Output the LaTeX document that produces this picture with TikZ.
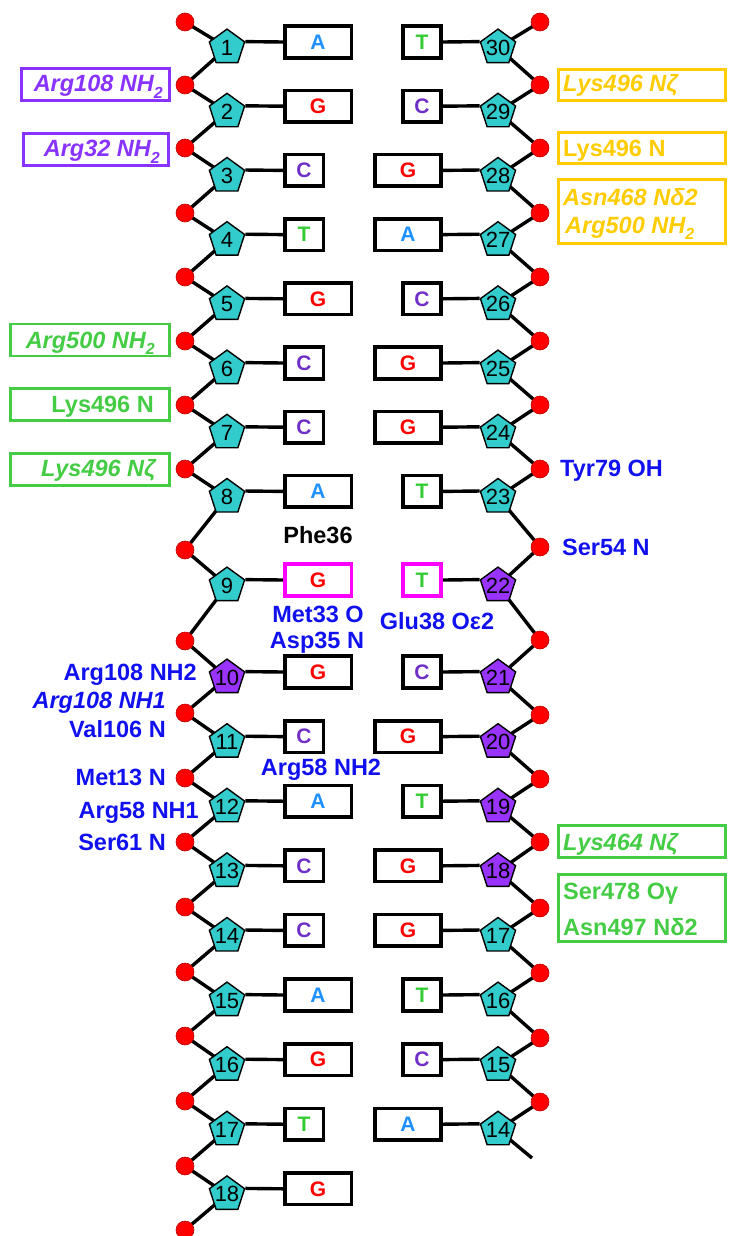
\documentclass[tikz,border=0pt]{standalone}
\usepackage{fontspec}
\setmainfont{Liberation Sans}
\usetikzlibrary{shapes.geometric}
\pgfdeclarelayer{background}
\pgfsetlayers{background,main}

\definecolor{sugarT}{RGB}{51,204,204}
\definecolor{sugarV}{RGB}{153,51,255}
\definecolor{baseA}{RGB}{30,144,255}
\definecolor{baseG}{RGB}{255,0,0}
\definecolor{baseC}{RGB}{112,48,200}
\definecolor{baseT}{RGB}{51,204,51}
\definecolor{labP}{RGB}{136,51,255}
\definecolor{labG}{RGB}{68,204,68}
\definecolor{labY}{RGB}{255,204,0}
\definecolor{labB}{RGB}{17,17,240}
\definecolor{mis}{RGB}{255,0,255}

\newcommand\lowsub[1]{\raisebox{-0.28em}{\fontsize{16}{16}\selectfont #1}}

\begin{document}
\begin{tikzpicture}[x=1pt,y=-1pt,
  backbone/.style={line width=3.4pt, black},
  sugar/.style={regular polygon, regular polygon sides=5, minimum size=37pt,
    inner sep=0pt, draw=black, line width=1.4pt},
  phos/.style={circle, fill=red, draw=red!75!black, line width=0.6pt,
    minimum size=18pt, inner sep=0pt},
  base/.style={rectangle, draw=black, line width=3.6pt, minimum height=31.5pt,
    inner sep=0pt, font=\fontsize{21}{21}\selectfont\bfseries},
  pur/.style={base, minimum width=66.5pt},
  pyr/.style={base, minimum width=38.5pt},
  boxA/.style={pur, text=baseA},
  boxG/.style={pur, text=baseG},
  boxC/.style={pyr, text=baseC},
  boxT/.style={pyr, text=baseT},
  num/.style={inner sep=0pt, font=\fontsize{22}{22}\selectfont},
  lab/.style={inner sep=0pt, font=\fontsize{23.5}{23.5}\selectfont\bfseries},
  ilab/.style={inner sep=0pt, font=\fontsize{23.5}{23.5}\selectfont\bfseries\itshape},
  frame/.style={rectangle, line width=2.6pt, inner sep=0pt}
]
\useasboundingbox (0,0) rectangle (728,1236);

% ---------- strand 1 (left, 1 to 18) ----------
\foreach \i/\y/\d/\b/\s/\o in {
  1/42/22/A/sugarT/black, 2/106.2/85/G/sugarT/black, 3/170.4/148/C/sugarT/black,
  4/234.6/213/T/sugarT/black, 5/298.8/277/G/sugarT/black, 6/363/341/C/sugarT/black,
  7/427.2/405/C/sugarT/black, 8/491.4/469/A/sugarT/black, 9/580/550/G/sugarT/mis,
  10/672/641/G/sugarV/black, 11/736.6/713/C/sugarT/black, 12/801.2/778/A/sugarT/black,
  13/865.8/842/C/sugarT/black, 14/930.4/907/C/sugarT/black, 15/995/972/A/sugarT/black,
  16/1059.6/1036/G/sugarT/black, 17/1124.2/1101/T/sugarT/black, 18/1188.8/1166/G/sugarT/black}
{
  \node[phos] (pL\i) at (185,\d) {};
  \node[sugar, fill=\s] (sL\i) at (227,\y+5.6) {};
  \node[num] (nL\i) at (sL\i) {\i};
  \node[box\b, draw=\o, anchor=west] (bL\i) at (283,\y) {\b};
}
\node[phos] (pL19) at (185,1230) {};

% ---------- strand 2 (right, 30 down to 14) ----------
\foreach \n/\y/\d/\b/\s/\o in {
  30/42/22/T/sugarT/black, 29/106.2/85/C/sugarT/black, 28/170.4/148/G/sugarT/black,
  27/234.6/213/A/sugarT/black, 26/298.8/277/C/sugarT/black, 25/363/341/G/sugarT/black,
  24/427.2/405/G/sugarT/black, 23/491.4/469/T/sugarT/black, 22/580/547/T/sugarV/mis,
  21/672/640/C/sugarV/black, 20/736.6/715/G/sugarV/black, 19/801.2/779/T/sugarV/black,
  18/865.8/842/G/sugarV/black, 17/930.4/908/G/sugarT/black, 16/995/973/T/sugarT/black,
  15/1059.6/1038/C/sugarT/black, 14/1124.2/1102/A/sugarT/black}
{
  \node[phos] (pR\n) at (540,\d) {};
  \node[sugar, fill=\s] (sR\n) at (498,\y+5.6) {};
  \node[num] (nR\n) at (sR\n) {\n};
  \node[box\b, draw=\o, anchor=east] (bR\n) at (443,\y) {\b};
}
\coordinate (pR13) at (532,1158);

% ---------- backbone and base links ----------
\begin{pgfonlayer}{background}
  \foreach \i in {1,...,18}{
    \pgfmathtruncatemacro\nx{\i+1}
    \draw[backbone] (pL\i.center) -- (sL\i.center) -- (pL\nx.center);
    \draw[backbone] (sL\i.corner 5) -- (bL\i.west);
  }
  \foreach \n in {30,29,...,14}{
    \pgfmathtruncatemacro\nx{\n-1}
    \draw[backbone] (pR\n.center) -- (sR\n.center) -- (pR\nx.center);
    \draw[backbone] (sR\n.corner 2) -- (bR\n.east);
  }
\end{pgfonlayer}

% ---------- framed contacts, left ----------
\node[frame, draw=labP, minimum width=148.5pt, minimum height=32.5pt] (fP1) at (95.5,84.5) {};
\node[ilab, text=labP, anchor=base east] (tP1) at (163,92) {Arg108 NH\lowsub{2}};
\node[frame, draw=labP, minimum width=145.5pt, minimum height=32.5pt] (fP2) at (96,149.5) {};
\node[ilab, text=labP, anchor=base east] (tP2) at (160,157) {Arg32 NH\lowsub{2}};

\node[frame, draw=labG, minimum width=159.5pt, minimum height=32pt] (fG1) at (90,340) {};
\node[ilab, text=labG, anchor=base east] (tG1) at (155,348) {Arg500 NH\lowsub{2}};
\node[frame, draw=labG, minimum width=159.5pt, minimum height=32pt] (fG2) at (90,404.5) {};
\node[lab, text=labG, anchor=base east] (tG2) at (154,412) {Lys496 N};
\node[frame, draw=labG, minimum width=159.5pt, minimum height=32pt] (fG3) at (90,469.5) {};
\node[ilab, text=labG, anchor=base east] (tG3) at (156,476) {Lys496 Nζ};

% ---------- framed contacts, right ----------
\node[frame, draw=labY, minimum width=167.5pt, minimum height=31.5pt] (fY1) at (642,85) {};
\node[ilab, text=labY, anchor=base west] (tY1) at (563,92) {Lys496 Nζ};
\node[frame, draw=labY, minimum width=167.5pt, minimum height=31.5pt] (fY2) at (642,148) {};
\node[lab, text=labY, anchor=base west] (tY2) at (563,157) {Lys496 N};
\node[frame, draw=labY, minimum width=167.5pt, minimum height=64.5pt] (fY3) at (642,211.5) {};
\node[ilab, text=labY, anchor=base west] (tY3a) at (563,205) {Asn468 Nδ2};
\node[ilab, text=labY, anchor=base west] (tY3b) at (565,233) {Arg500 NH\lowsub{2}};

\node[frame, draw=labG, minimum width=167.5pt, minimum height=32.5pt] (fG4) at (642,841.5) {};
\node[ilab, text=labG, anchor=base west] (tG4) at (563,850) {Lys464 Nζ};
\node[frame, draw=labG, minimum width=167.5pt, minimum height=67.5pt] (fG5) at (642,908) {};
\node[lab, text=labG, anchor=base west] (tG5a) at (563,899) {Ser478 Oγ};
\node[lab, text=labG, anchor=base west] (tG5b) at (563,935) {Asn497 Nδ2};

% ---------- free contact labels ----------
\node[lab, text=labB, anchor=base west] (cTyr79) at (560,476) {Tyr79 OH};
\node[lab, text=labB, anchor=base west] (cSer54) at (562,555) {Ser54 N};
\node[lab, text=black, anchor=base] (cPhe36) at (318,543) {Phe36};
\node[lab, text=labB, anchor=base] (cMet33) at (318,622) {Met33 O};
\node[lab, text=labB, anchor=base] (cAsp35) at (317,648) {Asp35 N};
\node[lab, text=labB, anchor=base] (cGlu38) at (437,629) {Glu38 Oε2};
\node[lab, text=labB, anchor=base] (cArg58b) at (321,775) {Arg58 NH2};
\node[lab, text=labB, anchor=base east] (cArg108a) at (197,680) {Arg108 NH2};
\node[ilab, text=labB, anchor=base east] (cArg108b) at (166,708) {Arg108 NH1};
\node[lab, text=labB, anchor=base east] (cVal106) at (166,737) {Val106 N};
\node[lab, text=labB, anchor=base east] (cMet13) at (166,785) {Met13 N};
\node[lab, text=labB, anchor=base east] (cArg58a) at (199,818) {Arg58 NH1};
\node[lab, text=labB, anchor=base east] (cSer61) at (166,850) {Ser61 N};
\end{tikzpicture}
\end{document}
